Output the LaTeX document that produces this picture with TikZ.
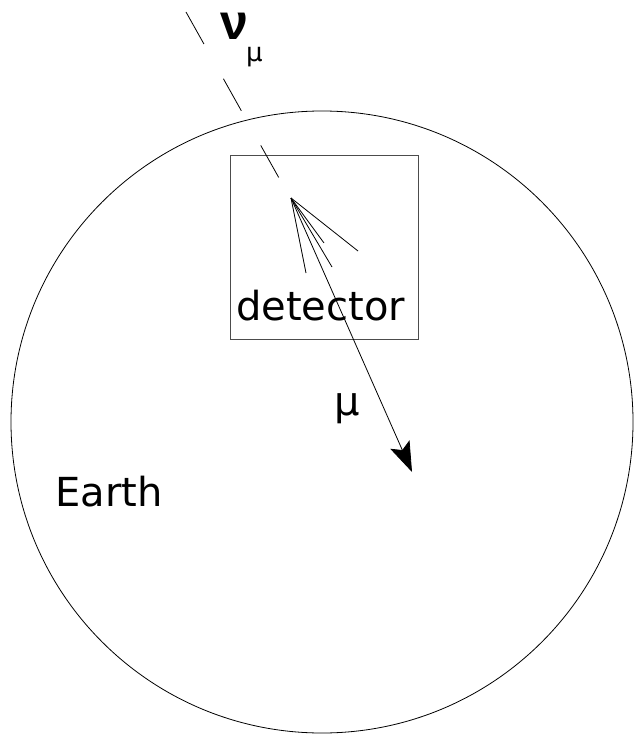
\documentclass[tikz,border=0pt]{standalone}
\usepackage{fontspec}
\setmainfont{DejaVu Sans}
\newfontfamily\nufont{Liberation Sans}
\usetikzlibrary{arrows.meta}
\begin{document}
\begin{tikzpicture}[x=1pt,y=-1pt,
  thinline/.style={line width=0.8pt},
  lbl/.style={inner sep=0pt,anchor=base west,font=\fontsize{40}{42}\selectfont}]
\useasboundingbox (0,0) rectangle (635,735);
% Earth
\draw[thinline] (322,422) circle[radius=311];
% detector box
\node[draw=black!70,thinline,minimum width=188pt,minimum height=184pt,inner sep=0pt] (box) at (324,247) {};
% neutrino track
\coordinate (nstart) at (186,12);
\coordinate (nend) at (279,178);
\draw[thinline,dash pattern=on 36.7pt off 39.8pt] (nstart) -- (nend);
% vertex and secondaries
\coordinate (vtx) at (291,198);
\coordinate (s1) at (306,273);
\coordinate (s2) at (324,243);
\coordinate (s3) at (332,267);
\coordinate (s4) at (358,251);
\coordinate (mutip) at (412,472);
\draw[thinline] (vtx) -- (s1);
\draw[thinline] (vtx) -- (s2);
\draw[thinline] (vtx) -- (s3);
\draw[thinline] (vtx) -- (s4);
\draw[thinline,-{Stealth[length=30pt,width=21pt,inset=6pt]}] (vtx) -- (mutip);
% labels
\node[lbl,font=\nufont\bfseries\fontsize{50}{52}\selectfont] (nu) at (220,40) {ν};
\node[lbl,font=\fontsize{26}{28}\selectfont] (nusub) at (246,62) {μ};
\node[lbl] (det) at (236,320) {detector};
\node[lbl] (earth) at (55,506) {Earth};
\node[lbl] (mu) at (334,415) {μ};
\end{tikzpicture}
\end{document}
